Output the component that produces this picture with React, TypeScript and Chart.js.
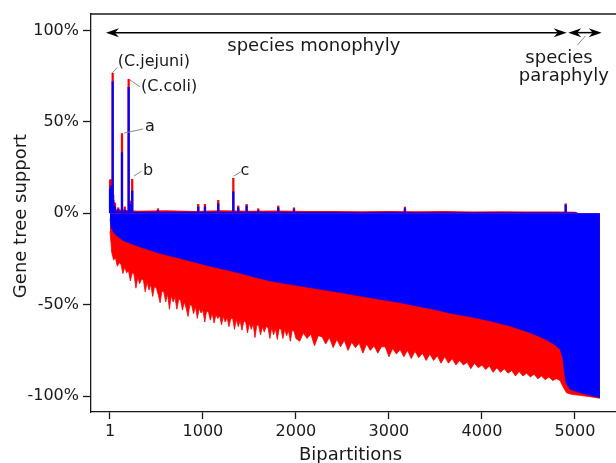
import React, { useEffect, useRef } from "react";
import { Chart, registerables } from "chart.js";

Chart.register(...registerables);

// ---- data ----
const xTickValues = [1, 1000, 2000, 3000, 4000, 5000];
const yTickValues = [-100, -50, 0, 50, 100];

// boundary between blue and red (negative side), per bipartition
const blueX = [1, 12, 55, 144, 324, 503, 681, 861, 1041, 1219, 1399, 1578, 1721, 1829, 2044, 2259, 2474, 2689, 2904, 3119, 3334, 3500, 3656, 3871, 4086, 4301, 4516, 4659, 4767, 4839, 4868, 4885, 4903, 4946, 5054, 5161, 5268];
const blueY = [-3, -8, -11.5, -15, -18.5, -21.5, -23.8, -26.1, -28.5, -30.6, -32.8, -35.2, -37.0, -38, -39.8, -41.6, -43.4, -45.3, -47.1, -48.9, -51.1, -52.8, -54.7, -56.6, -58.9, -61.7, -65.3, -68.4, -71.4, -74.4, -79, -86.3, -92.7, -96.3, -98.2, -99.6, -100.9];

// lower (red) envelope
const redX = [
  1, 12,
  20, 40, 60, 80, 100, 120, 140, 160, 180, 200,
  220, 240, 260, 280, 300, 320, 340, 360, 380, 400,
  420, 440, 460, 480, 500, 520, 540, 560, 580, 600,
  620, 640, 660, 680, 700, 720, 740, 760, 780, 800,
  820, 840, 860, 880, 900, 920, 940, 960, 980, 1000,
  1020, 1040, 1060, 1080, 1100, 1120, 1140, 1160, 1180, 1200,
  1220, 1240, 1260, 1280, 1300, 1320, 1340, 1360, 1380, 1400,
  1420, 1440, 1460, 1480, 1500, 1520, 1540, 1560, 1580, 1600,
  1620, 1640, 1660, 1680, 1700, 1720, 1740, 1760, 1780, 1800,
  1820, 1840, 1860, 1880, 1900, 1920, 1940, 1960, 1980, 2000,
  2040, 2080, 2120, 2160, 2200, 2240, 2280, 2320, 2360, 2400,
  2440, 2480, 2520, 2560, 2600, 2640, 2680, 2720, 2760, 2800,
  2840, 2880, 2920, 2960, 3000, 3040, 3080, 3120, 3160, 3200,
  3240, 3280, 3320, 3360, 3400, 3440, 3480, 3520, 3560, 3600,
  3640, 3680, 3720, 3760, 3800, 3840, 3880, 3920, 3960, 4000,
  4040, 4080, 4120, 4160, 4200, 4240, 4280, 4320, 4360, 4400,
  4440, 4480, 4520, 4560, 4600, 4640, 4680, 4720, 4760, 4800,
  4840, 4868, 4890, 4910, 4960, 5050, 5160, 5268,
];
const redY = [
  -10, -16,
  -21.5, -25.5, -24.5, -29, -27, -28, -33, -29.5, -32.5, -31.5,
  -37, -32.5, -33.5, -41, -35, -38.5, -36, -36.5, -43, -37.5,
  -42, -39, -45.5, -40, -41, -44.5, -49, -42.5, -43, -48.5,
  -44, -52.5, -45, -48.5, -46, -52.5, -47, -47.5, -53, -48.5,
  -52, -56.5, -50, -50.5, -55, -51, -57.5, -52, -54.5, -53,
  -59.5, -53.5, -54, -58.5, -54.5, -60, -55.5, -57.5, -56, -61,
  -56.5, -59.5, -57, -62, -57.5, -57.5, -63.5, -58, -62, -58.5,
  -64, -59, -59.5, -65.5, -60, -63.5, -60.5, -68, -61, -61.5,
  -66.5, -62, -65, -62, -62.5, -68.5, -62.5, -66.5, -63, -69,
  -63, -63.5, -68.5, -63.5, -67, -64, -70, -64, -64.5, -68.5,
  -70, -65.5, -68.5, -66, -72.5, -67, -67.5, -71.5, -68, -73.5,
  -69, -73, -69.5, -75, -70.5, -73.5, -71, -76.5, -71.5, -75,
  -72.5, -76.5, -73, -73, -78.5, -74, -77, -74.5, -78.5, -75,
  -79.5, -75.5, -79, -76.5, -80.5, -77, -80.5, -78, -82, -78.5,
  -82, -79.5, -83, -80.5, -83, -81.5, -85, -82, -84.5, -83,
  -85.5, -83.5, -87, -84.5, -87, -85, -87.5, -86, -89, -86.5,
  -89, -87.5, -89.5, -88, -90.5, -89, -91, -89.5, -91.5, -90.5,
  -91.5, -94.6, -96.5, -98.2, -99, -99.6, -100.3, -101.2,
];

// small positive fuzz along zero
const fuzzX = [1, 60, 300, 600, 900, 1200, 1500, 1800, 2100, 2400, 2700, 3000, 3300, 3600, 3900, 4200, 4500, 4800, 5000, 5030];
const fuzzRed = [3, 2.2, 1.4, 1.6, 1.3, 1.7, 1.4, 1.5, 1.2, 1.3, 1.1, 1.2, 1.1, 1.2, 1.0, 1.1, 1.0, 1.0, 0.9, 0];
const fuzzBlue = [2, 1.2, 0.8, 0.9, 0.8, 0.9, 0.8, 0.8, 0.7, 0.7, 0.6, 0.7, 0.6, 0.6, 0.5, 0.6, 0.5, 0.5, 0.5, 0.4];

// positive spikes
const spikeX = [2, 8, 14, 20, 26, 30, 36, 44, 55, 90, 130, 160, 202, 216, 240, 517, 950, 1022, 1165, 1327, 1380, 1470, 1595, 1810, 1979, 3172, 4900];
const spikeRed = [18, 18.5, 17, 18, 17.5, 76.6, 10, 6, 5.5, 3, 43.6, 3.5, 73.3, 6.8, 18.6, 2.5, 4.9, 4.9, 7.1, 19.1, 4, 4.9, 2.5, 4, 3, 3.4, 5.2];
const spikeBlue = [13, 14, 15, 13, 12, 72, 7, 4, 3.5, 2, 33.2, 2, 68.9, 5, 12.2, 1.5, 3.5, 3.5, 5.3, 11.8, 3, 4, 1.5, 3, 2, 2.5, 4.5];

// annotation texts (positions in data units)
const labelTexts = ["(C.jejuni)", "(C.coli)", "a", "b", "c"];
const labelX = [84, 334, 378, 357, 1405];
const labelY = [80.6, 67.0, 45, 20.9, 20.9];
const leaderFrom = [[22, 76.6], [216, 72.9], [152, 43.9], [259, 20.4], [1333, 20.4], [5112, 97.0]];
const leaderTo = [[80, 79.8], [324, 69.2], [359, 46.1], [341, 23.1], [1408, 22.7], [5026, 92.0]];

const RED = "#ff0000";
const BLUE = "#0000ff";
const INK = "#1a1a1a";
const FONT = '"DejaVu Sans", "Liberation Sans", sans-serif';

const pts = (xs: number[], ys: number[]) => xs.map((x, i) => ({ x, y: ys[i] }));

function arrowHead(ctx: CanvasRenderingContext2D, tx: number, ty: number, dir: number) {
  const L = 13, H = 4.5, N = 9;
  ctx.beginPath();
  ctx.moveTo(tx, ty);
  ctx.lineTo(tx - dir * L, ty - H);
  ctx.lineTo(tx - dir * N, ty);
  ctx.lineTo(tx - dir * L, ty + H);
  ctx.closePath();
  ctx.fill();
}

const decorPlugin = {
  id: "decor",
  afterDraw(chart: any) {
    const { ctx, chartArea: a, scales } = chart;
    const xs = scales.x, ys = scales.y;
    const px = (v: number) => xs.getPixelForValue(v);
    const py = (v: number) => ys.getPixelForValue(v);
    ctx.save();
    // top spine
    ctx.strokeStyle = INK;
    ctx.lineWidth = 1.3;
    ctx.beginPath();
    ctx.moveTo(a.left - 0.65, a.top);
    ctx.lineTo(a.right, a.top);
    ctx.stroke();

    // arrows
    ctx.fillStyle = "#000";
    ctx.strokeStyle = "#000";
    ctx.lineWidth = 1.5;
    const ay = py(98.8);
    const seg = [[-42, 4911], [4928, 5287]];
    seg.forEach(([x0, x1]) => {
      const p0 = px(x0), p1 = px(x1);
      ctx.beginPath();
      ctx.moveTo(p0 + 6, ay);
      ctx.lineTo(p1 - 6, ay);
      ctx.stroke();
      arrowHead(ctx, p0, ay, -1);
      arrowHead(ctx, p1, ay, 1);
    });

    // leader lines
    ctx.strokeStyle = "#888";
    ctx.lineWidth = 1;
    leaderFrom.forEach((f, i) => {
      const t = leaderTo[i];
      ctx.beginPath();
      ctx.moveTo(px(f[0]), py(f[1]));
      ctx.lineTo(px(t[0]), py(t[1]));
      ctx.stroke();
    });

    // texts
    ctx.fillStyle = INK;
    ctx.textBaseline = "alphabetic";
    ctx.font = `18px ${FONT}`;
    ctx.textAlign = "center";
    ctx.fillText("species monophyly", px(2192), py(88.5));
    ctx.fillText("species", px(4828), py(82.0));
    ctx.fillText("paraphyly", px(4880), py(72.4));

    ctx.font = `16px ${FONT}`;
    ctx.textAlign = "left";
    labelTexts.forEach((t, i) => ctx.fillText(t, px(labelX[i]), py(labelY[i])));

    // axis titles
    ctx.font = `18px ${FONT}`;
    ctx.textAlign = "center";
    ctx.fillText("Bipartitions", 350.5, 460);
    ctx.save();
    ctx.translate(25.5, 216);
    ctx.rotate(-Math.PI / 2);
    ctx.fillText("Gene tree support", 0, 0);
    ctx.restore();

    ctx.restore();
  },
};

export default function App() {
  const ref = useRef<HTMLCanvasElement | null>(null);
  useEffect(() => {
    if (!ref.current) return;
    const chart = new Chart(ref.current, {
      type: "line",
      data: {
        datasets: [
          {
            type: "bar",
            data: pts(spikeX, spikeBlue),
            backgroundColor: BLUE,
            barThickness: 1.6,
            grouped: false,
            order: 1,
          } as any,
          {
            type: "bar",
            data: pts(spikeX, spikeRed),
            backgroundColor: RED,
            barThickness: 1.6,
            grouped: false,
            order: 2,
          } as any,
          {
            data: pts(fuzzX, fuzzBlue),
            fill: "origin",
            backgroundColor: BLUE,
            borderWidth: 0,
            pointRadius: 0,
            order: 3,
          },
          {
            data: pts(fuzzX, fuzzRed),
            fill: "origin",
            backgroundColor: RED,
            borderWidth: 0,
            pointRadius: 0,
            order: 4,
          },
          {
            data: pts(blueX, blueY),
            fill: "origin",
            backgroundColor: BLUE,
            borderColor: BLUE,
            borderWidth: 0.5,
            pointRadius: 0,
            order: 5,
          },
          {
            data: pts(redX, redY),
            fill: "origin",
            backgroundColor: RED,
            borderColor: RED,
            borderWidth: 0.8,
            pointRadius: 0,
            order: 6,
          },
        ],
      },
      options: {
        responsive: false,
        animation: false,
        events: [],
        layout: { padding: { top: 14, left: 0, right: 0, bottom: 0 } },
        plugins: { legend: { display: false }, tooltip: { enabled: false } },
        scales: {
          x: {
            type: "linear",
            min: -203,
            max: 5441,
            offset: false,
            afterBuildTicks: (s: any) => {
              s.ticks = xTickValues.map((v) => ({ value: v }));
            },
            afterFit: (s: any) => {
              s.height = 51;
            },
            grid: { display: true, drawOnChartArea: false, drawTicks: true, tickLength: 7, tickColor: INK, tickWidth: 1.3, offset: false },
            border: { display: true, color: INK, width: 1.3 },
            ticks: {
              font: { family: FONT, size: 16 },
              color: INK,
              padding: 3,
              maxRotation: 0,
              autoSkip: false,
              callback: (v: any) => String(v),
            },
          },
          y: {
            type: "linear",
            min: -108.7,
            max: 109,
            afterBuildTicks: (s: any) => {
              s.ticks = yTickValues.map((v) => ({ value: v }));
            },
            afterFit: (s: any) => {
              s.width = 91;
            },
            grid: { display: true, drawOnChartArea: false, drawTicks: true, tickLength: 8, tickColor: INK, tickWidth: 1.3 },
            border: { display: true, color: INK, width: 1.3 },
            ticks: {
              font: { family: FONT, size: 16 },
              color: INK,
              padding: 4,
              callback: (v: any) => `${v}%`,
            },
          },
        },
      },
      plugins: [decorPlugin],
    });
    return () => chart.destroy();
  }, []);
  return (
    <div style={{ position: "absolute", left: 0, top: 0, width: 616, height: 463, background: "#fff" }}>
      <canvas ref={ref} width={616} height={463} />
    </div>
  );
}
